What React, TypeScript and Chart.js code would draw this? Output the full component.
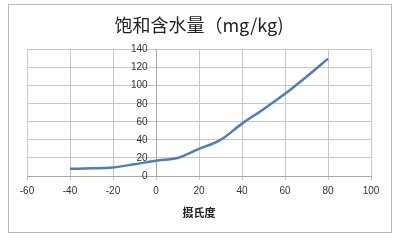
import React, { useEffect, useRef } from "react";
import { Chart, registerables } from "chart.js";

Chart.register(...registerables);

const temperatures = [-40, -30, -20, -10, 0, 10, 20, 30, 40, 50, 60, 70, 80];
const moisture = [8, 8.5, 9.5, 13, 17, 20, 30, 40, 58, 74, 91, 110, 130];
const xTicks = [-60, -40, -20, 0, 20, 40, 60, 80, 100];
const yTicks = [0, 20, 40, 60, 80, 100, 120, 140];
const titleText = "饱和含水量（mg/kg)";
const xTitle = "摄氏度";

const frame = {
  id: "frame",
  beforeDraw(chart: any) {
    const ctx = chart.ctx;
    ctx.save();
    ctx.fillStyle = "#ffffff";
    ctx.fillRect(0, 0, chart.width, chart.height);
    ctx.strokeStyle = "#b8b8b8";
    ctx.lineWidth = 1;
    ctx.strokeRect(8.5, 4.5, 383, 228);
    ctx.restore();
  },
};

export default function App() {
  const ref = useRef<HTMLCanvasElement>(null);
  useEffect(() => {
    if (!ref.current) return;
    const chart = new Chart(ref.current, {
      type: "line",
      data: {
        datasets: [
          {
            data: temperatures.map((t, i) => ({ x: t, y: moisture[i] })),
            borderColor: "#4f7db5",
            borderWidth: 2.5,
            pointRadius: 0,
            cubicInterpolationMode: "monotone",
            fill: false,
          },
        ],
      },
      options: {
        animation: false,
        responsive: false,
        layout: { padding: { left: 27, right: 31, top: 0, bottom: 0 } },
        plugins: {
          legend: { display: false },
          tooltip: { enabled: false },
          title: {
            display: true,
            text: titleText,
            color: "#222",
            font: { family: "'Noto Sans CJK SC'", size: 18, weight: "normal" },
            padding: { top: 14, bottom: 14 },
          },
        },
        scales: {
          x: {
            type: "linear",
            min: -60,
            max: 100,
            afterBuildTicks: (s: any) => {
              s.ticks = xTicks.map((v) => ({ value: v }));
            },
            afterFit: (s: any) => {
              s.height = 66;
            },
            grid: { color: "#c8c8c8", tickLength: 4, drawTicks: true },
            border: { color: "#a8a8a8" },
            ticks: {
              color: "#333",
              padding: 5,
              maxRotation: 0,
              font: { family: "'Liberation Sans'", size: 10 },
            },
            title: {
              display: true,
              text: xTitle,
              color: "#222",
              font: { family: "'Noto Sans CJK SC'", size: 11, weight: "bold" },
              padding: { top: 0, bottom: 23 },
            },
          },
          y: {
            type: "linear",
            position: { x: 0 } as any,
            min: 0,
            max: 140,
            afterBuildTicks: (s: any) => {
              s.ticks = yTicks.map((v) => ({ value: v }));
            },
            grid: { color: "#c8c8c8", tickLength: 4 },
            border: { color: "#a8a8a8" },
            ticks: {
              color: "#333",
              padding: 4,
              font: { family: "'Liberation Sans'", size: 10 },
              callback: (v: any) => `${v}   `,
            },
          },
        },
      },
      plugins: [frame],
    });
    return () => chart.destroy();
  }, []);
  return (
    <div style={{ position: "fixed", left: 0, top: 0, width: 402, height: 242 }}>
      <canvas ref={ref} width={402} height={242} style={{ display: "block" }} />
    </div>
  );
}
